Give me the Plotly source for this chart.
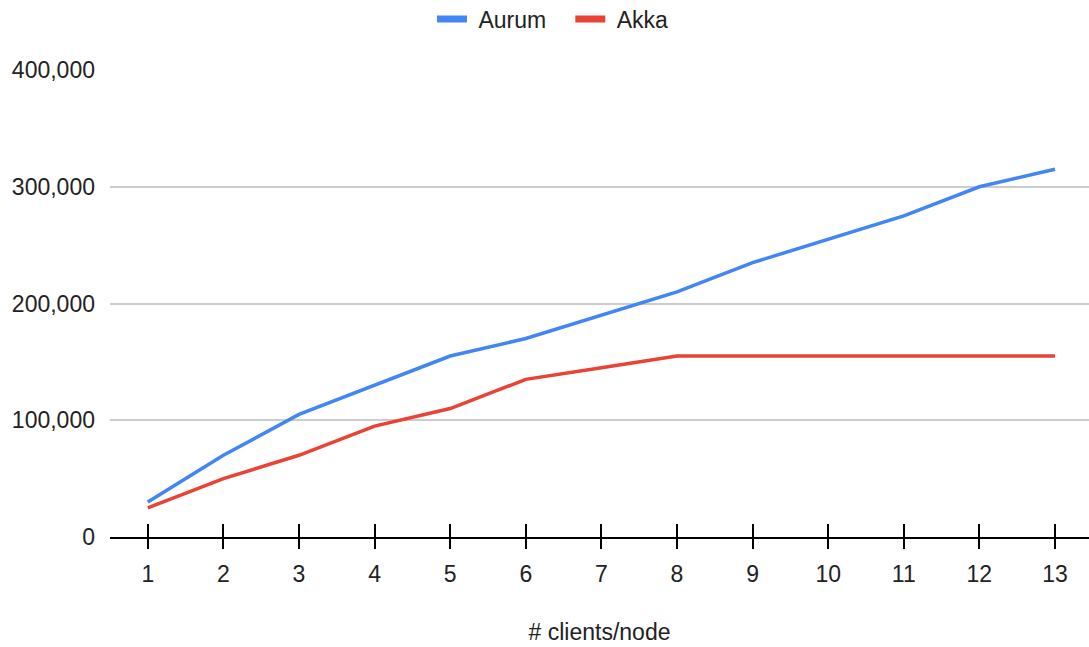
import plotly.graph_objects as go

# Throughput per number of clients per node
clients = [1, 2, 3, 4, 5, 6, 7, 8, 9, 10, 11, 12, 13]
tick_labels = [str(c) for c in clients]
aurum = [30000, 70000, 105000, 130000, 155000, 170000, 190000, 210000,
         235000, 255000, 275000, 300000, 315000]
akka = [25000, 50000, 70000, 95000, 110000, 135000, 145000, 155000,
        155000, 155000, 155000, 155000, 155000]
y_ticks = [0, 100000, 200000, 300000, 400000]
y_tick_labels = ["0", "100,000", "200,000", "300,000", "400,000"]

BLUE = "#4285F4"
RED = "#EA4335"
FONT = "Liberation Sans, Arial, sans-serif"
TEXT = "#222222"
SIZE = 23
NBSP = "\u00a0"

fig = go.Figure()

# Data lines (legend handled by the swatch traces below)
fig.add_trace(go.Scatter(x=clients, y=aurum, mode="lines", name="Aurum",
                         line=dict(color=BLUE, width=3.5), showlegend=False,
                         legendgroup="aurum"))
fig.add_trace(go.Scatter(x=clients, y=akka, mode="lines", name="Akka",
                         line=dict(color=RED, width=3.5), showlegend=False,
                         legendgroup="akka"))

# Thick legend swatches
fig.add_trace(go.Scatter(x=[None], y=[None], mode="lines",
                         name=NBSP + "Aurum" + NBSP * 3,
                         line=dict(color=BLUE, width=7), legendgroup="aurum"))
fig.add_trace(go.Scatter(x=[None], y=[None], mode="lines",
                         name=NBSP + "Akka",
                         line=dict(color=RED, width=7), legendgroup="akka"))

# Overlay axis used only for the upward half of the tick marks
fig.add_trace(go.Scatter(x=[None], y=[None], xaxis="x2", showlegend=False,
                         hoverinfo="skip"))

x_range = [0.5, 13.45]

fig.update_layout(
    width=1089, height=647,
    margin=dict(l=110, r=0, t=70, b=110),
    paper_bgcolor="white", plot_bgcolor="white",
    font=dict(family=FONT, size=SIZE, color=TEXT),
    showlegend=True,
    legend=dict(orientation="h", x=432 / 1089, xref="container", xanchor="left",
                y=1 - 19 / 647, yref="container", yanchor="middle",
                font=dict(size=SIZE, color=TEXT),
                itemwidth=30, tracegroupgap=0, bgcolor="rgba(0,0,0,0)"),
    xaxis=dict(
        range=x_range, tickmode="array", tickvals=clients, ticktext=tick_labels,
        showgrid=False, zeroline=False,
        showline=True, linecolor="black", linewidth=2,
        ticks="outside", ticklen=10, tickwidth=2, tickcolor="black",
        ticklabelstandoff=5,
        tickfont=dict(size=SIZE, color=TEXT),
        title=dict(text="# clients/node", font=dict(size=SIZE, color=TEXT),
                   standoff=38),
    ),
    xaxis2=dict(
        range=x_range, overlaying="x", anchor="y", side="bottom",
        tickmode="array", tickvals=clients, showticklabels=False,
        showgrid=False, zeroline=False, showline=False,
        ticks="inside", ticklen=13, tickwidth=2, tickcolor="black",
    ),
    yaxis=dict(
        range=[0, 400000], tickmode="array", tickvals=y_ticks,
        ticktext=y_tick_labels,
        showgrid=True, gridcolor="#cccccc", gridwidth=2,
        zeroline=False, showline=False, ticks="",
        ticklabelstandoff=14,
        tickfont=dict(size=SIZE, color=TEXT),
    ),
)

fig.write_html("out.html")
